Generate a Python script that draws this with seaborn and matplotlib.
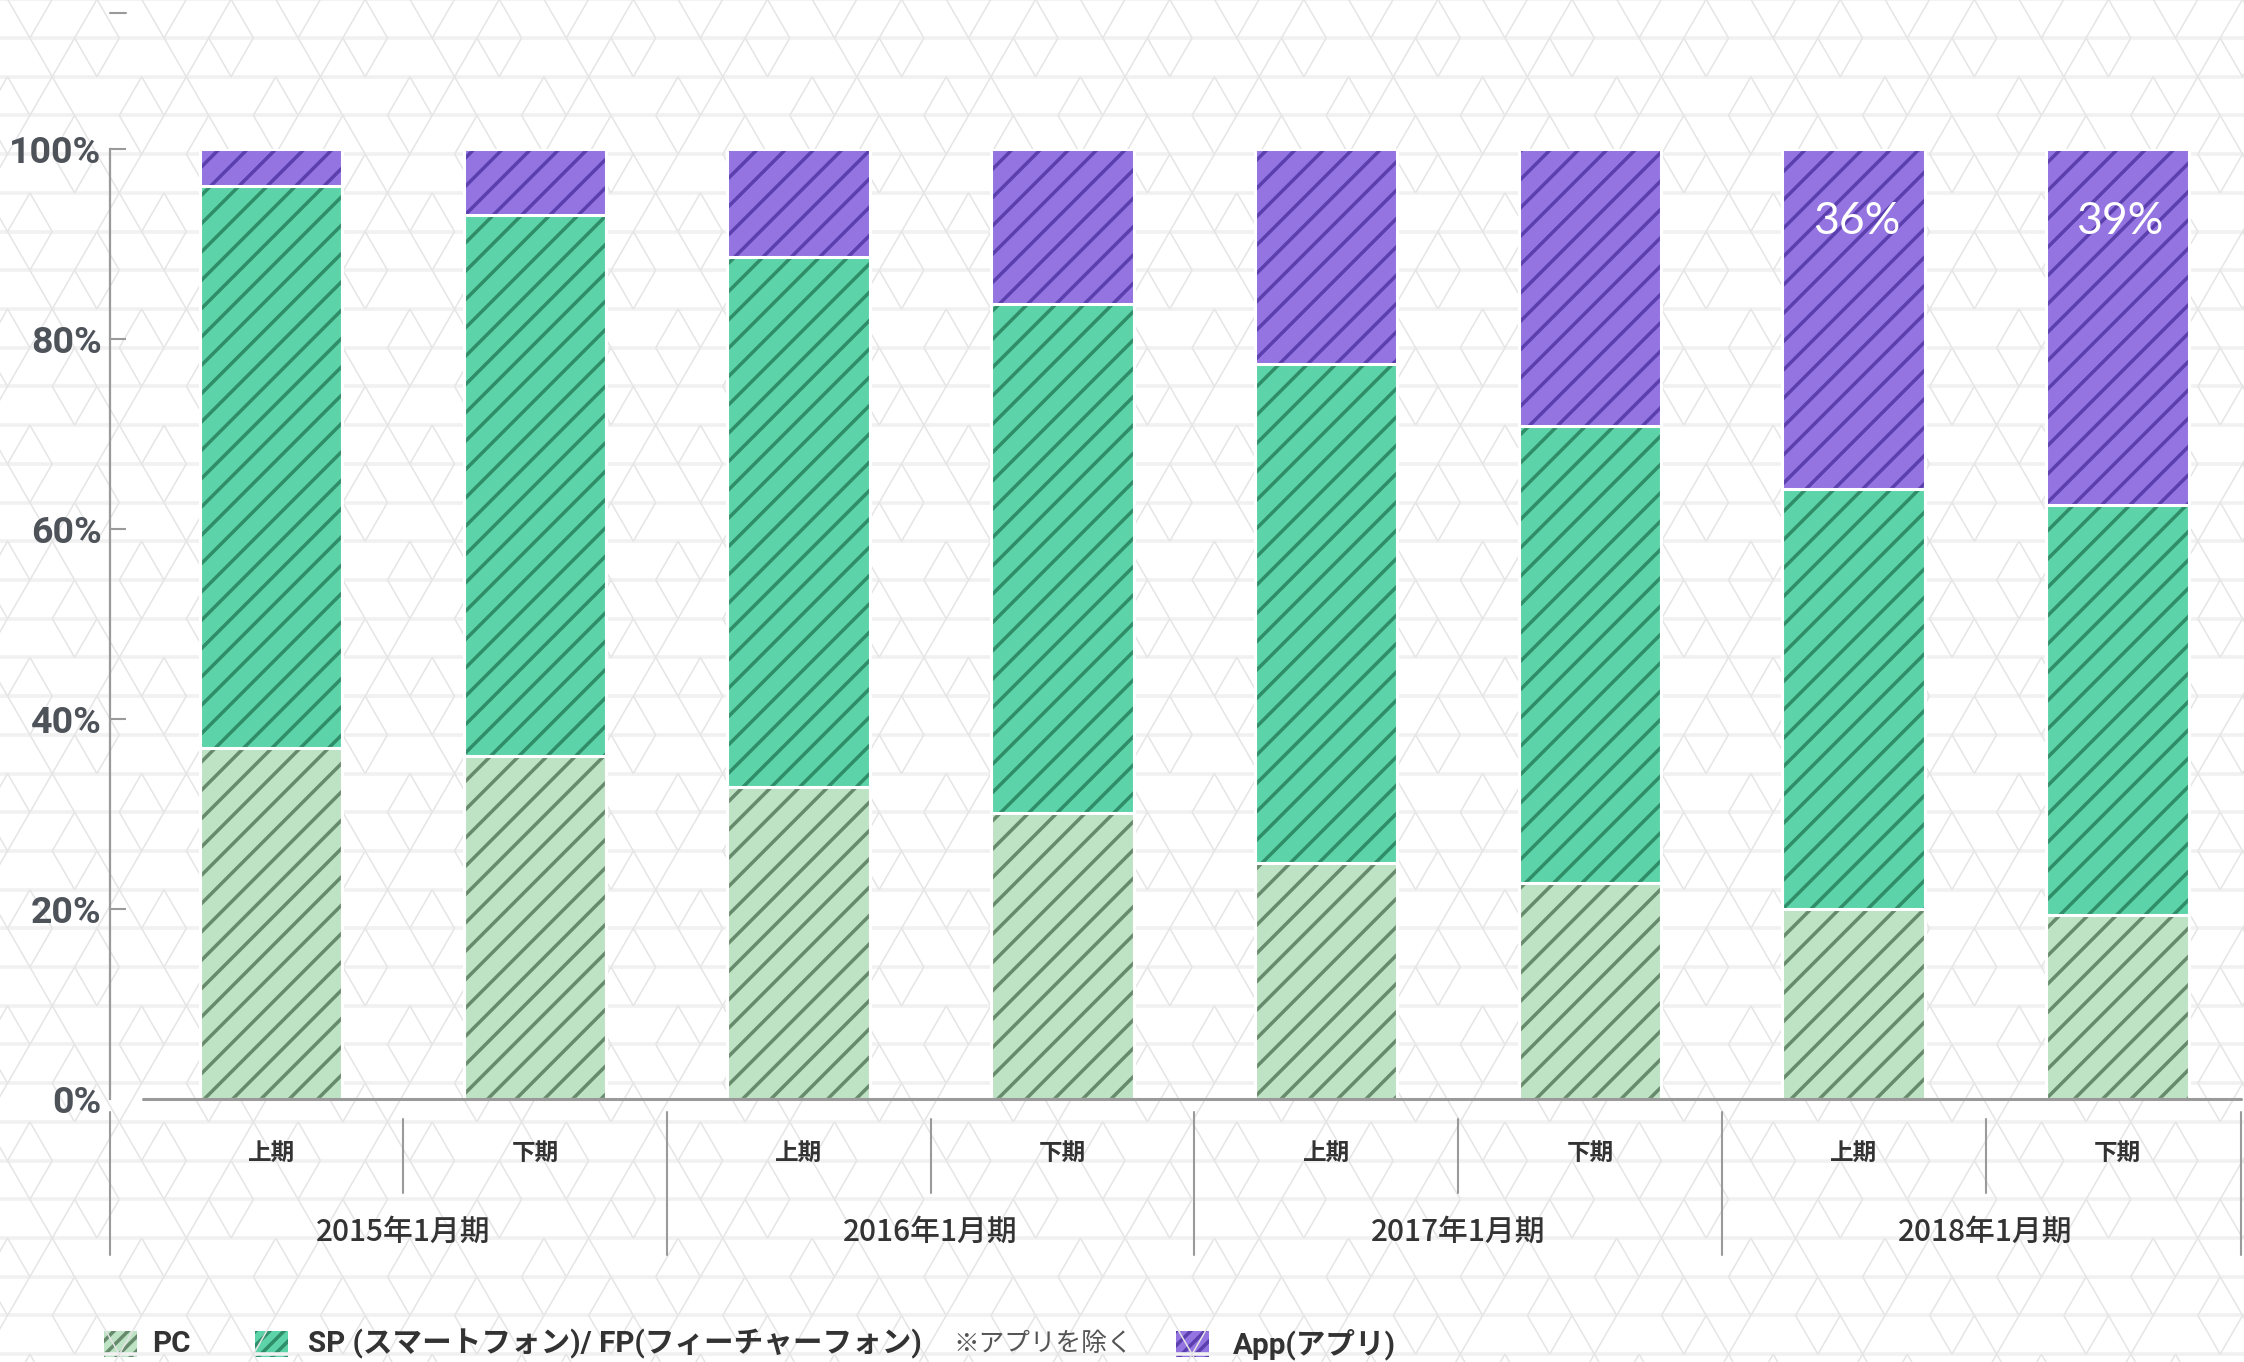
import numpy as np
import pandas as pd
import matplotlib.pyplot as plt
import matplotlib.transforms as mtransforms
from matplotlib.collections import LineCollection
from matplotlib.patches import Rectangle
import seaborn as sns

# データ（画像から読み取り、%）
years = ["2015年1月期", "2016年1月期", "2017年1月期", "2018年1月期"]
halves = ["上期", "下期"]
pc = [37.0, 36.1, 32.8, 30.1, 24.8, 22.7, 20.0, 19.4]
sp = [59.1, 57.0, 55.8, 53.6, 52.6, 48.1, 44.2, 43.1]
app = [3.9, 6.9, 11.4, 16.3, 22.6, 29.2, 35.8, 37.5]
app_labels = ["", "", "", "", "", "", "36%", "39%"]
yticks = [0, 20, 40, 60, 80, 100]
ytick_labels = ["0%", "20%", "40%", "60%", "80%", "100%"]
legend_labels = ["PC", "SP (スマートフォン)/ FP(フィーチャーフォン)", "App(アプリ)"]
legend_note = "※アプリを除く"

periods = [f"{y} {h}" for y in years for h in halves]
df = pd.DataFrame({"period": periods, "PC": pc, "SP": sp, "App": app})
df["pc_top"] = df["PC"]
df["sp_top"] = df["PC"] + df["SP"]
df["app_top"] = df["sp_top"] + df["App"]

LATIN = ["Roboto", "Noto Sans CJK JP", "DejaVu Sans"]
CJK = ["Noto Sans CJK JP", "DejaVu Sans"]

# dpi 85 で斜線の間隔を参照図に近づける。pt 指定は S 倍して見た目を保つ
DPI = 85
S = 100 / DPI

sns.set_theme(style="white")
plt.rcParams["font.family"] = CJK
plt.rcParams["hatch.linewidth"] = 2.5 * S

W, H = 2244, 1362
fig = plt.figure(figsize=(W / DPI, H / DPI), dpi=DPI, facecolor="white")

# 背景の三角格子（一部の辺を抜いて六角形風に）
bg = fig.add_axes([0, 0, 1, 1], zorder=-1)
bg.set_xlim(0, W)
bg.set_ylim(H, 0)
bg.axis("off")
a = 44.7
h = a * np.sqrt(3) / 2
rows = 38 + np.arange(-2, 40) * h
bg.add_collection(LineCollection([[(0, y), (W, y)] for y in rows],
                                 colors="#f1f1f1", linewidths=2.6 * S))
segs = []
for j in range(-2, 38):
    y0 = 38 + j * h
    for i in range(-2, 54):
        x0 = 1505 - 34 * a + i * a + (j % 2) * a / 2
        if (i + j) % 3 != 0:
            segs.append([(x0, y0), (x0 + a / 2, y0 + h)])
        if (i + 2 * j) % 3 != 1:
            segs.append([(x0, y0), (x0 - a / 2, y0 + h)])
bg.add_collection(LineCollection(segs, colors="#e5e5e5", linewidths=1.1 * S))

# メインの軸
ax = fig.add_axes([110 / W, 1 - 1099 / H, 1 - 110 / W, (1099 - 149) / H])
ax.set_facecolor("none")

layers = [
    ("app_top", "#9474e0", "#5b3fae"),
    ("sp_top", "#5dd3aa", "#2f8d68"),
    ("pc_top", "#bde2c4", "#67896c"),
]
for col, face, hatch_c in layers:
    n = len(ax.patches)
    sns.barplot(data=df, x="period", y=col, order=periods, color=face,
                saturation=1, width=0.54, ax=ax)
    for p in ax.patches[n:]:
        p.set_facecolor(face)
        p.set_hatch("/")
        p.set_edgecolor(hatch_c)
        p.set_linewidth(0)
        p.set_zorder(2)
    n = len(ax.patches)
    sns.barplot(data=df, x="period", y=col, order=periods, color="white",
                width=0.54, ax=ax)
    for p in ax.patches[n:]:
        p.set_facecolor("none")
        p.set_edgecolor("white")
        p.set_linewidth(2.2 * S)
        p.set_zorder(2.5)

# App の割合ラベル
for i, lab in enumerate(app_labels):
    if lab:
        ax.annotate(lab, xy=(i, df["app_top"][i]), xytext=(2 * S, -52 * S),
                    textcoords="offset points", ha="center", va="center",
                    fontsize=32 * S, color="white", family=["Lato", "DejaVu Sans"],
                    zorder=4)

ax.set_xlim(-0.611, 7.48)
ax.set_ylim(0, 100)
ax.set_xticks([])
ax.set_xlabel("")
ax.set_ylabel("")
ax.set_yticks(yticks)
ax.set_yticklabels(ytick_labels, family=LATIN, fontweight="bold",
                   fontsize=27 * S, color="#4e535a")
ax.tick_params(axis="y", direction="in", length=11.5 * S, width=1.5 * S,
               color="#9a9a9a", pad=6 * S, left=True)
ax.yaxis.get_major_ticks()[0].tick1line.set_visible(False)
for side in ["top", "right", "bottom"]:
    ax.spines[side].set_visible(False)
ax.spines["left"].set_bounds(0, 100)
ax.spines["left"].set_color("#9a9a9a")
ax.spines["left"].set_linewidth(1.6 * S)

# x 軸線と上部の小さな目盛
ax.plot([-0.485, 7.47], [0, 0], color="#9a9a9a", lw=2.2 * S, clip_on=False, zorder=3)
ax.plot([0, 0.0075], [1.143, 1.143], transform=ax.transAxes, color="#9a9a9a",
        lw=1.5 * S, clip_on=False)

# 階層カテゴリのラベルと区切り線
tr = mtransforms.blended_transform_factory(ax.transData, ax.transAxes)
for i, period in enumerate(periods):
    ax.text(i, -0.057, halves[i % 2], transform=tr, ha="center", va="center",
            fontsize=17 * S, fontweight="bold", color="#333333")
for j, yr in enumerate(years):
    ax.text(2 * j + 0.5, -0.14, yr, transform=tr, ha="center", va="center",
            fontsize=21.5 * S, fontweight="medium", color="#333333")
long_x = [-0.611] + [2 * j + 1.5 for j in range(3)] + [7.47]
short_x = [2 * j + 0.5 for j in range(4)]
for x in long_x:
    ax.plot([x, x], [-0.0137, -0.164], transform=tr, color="#9a9a9a",
            lw=1.5 * S, clip_on=False)
for x in short_x:
    ax.plot([x, x], [-0.0211, -0.099], transform=tr, color="#9a9a9a",
            lw=1.5 * S, clip_on=False)

# 凡例（手組み）
legend_x = [104, 255, 1176]
text_x = [152, 308, 1233]
for (col, face, hatch_c), lx, tx, lab in zip(layers[::-1], legend_x, text_x, legend_labels):
    bg.add_patch(Rectangle((lx, 1331), 33, 26, facecolor=face, hatch="//",
                           edgecolor=hatch_c, linewidth=0))
    bg.text(tx, 1344, lab, ha="left", va="center", fontsize=21.3 * S,
            fontweight="bold", family=LATIN, color="#333333")
bg.text(953, 1344, legend_note, ha="left", va="center", fontsize=18.5 * S,
        family=CJK, color="#555555")

fig.savefig("out.png", dpi=DPI, facecolor="white")
